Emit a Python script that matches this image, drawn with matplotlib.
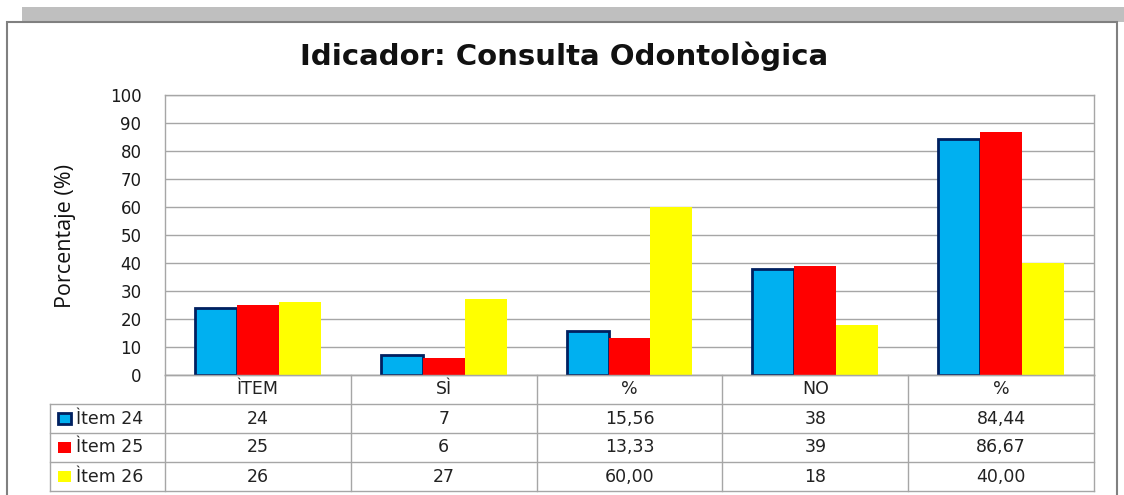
import matplotlib
matplotlib.use("Agg")
import matplotlib.pyplot as plt
from matplotlib.lines import Line2D
from matplotlib.patches import Rectangle

plt.rcParams["font.family"] = ["DejaVu Sans"]

categories = ["ÌTEM", "SÌ", "%", "NO", "%"]
series_names = ["Ìtem 24", "Ìtem 25", "Ìtem 26"]
item24 = [24, 7, 15.56, 38, 84.44]
item25 = [25, 6, 13.33, 39, 86.67]
item26 = [26, 27, 60.00, 18, 40.00]
pct_cols = [2, 4]
yticks = list(range(0, 101, 10))

series = [item24, item25, item26]
colors = ["#00B0F0", "#FF0000", "#FFFF00"]
edges = ["#002060", "none", "none"]

W, H = 1124, 495
fig = plt.figure(figsize=(W / 100, H / 100), dpi=100)

def fx(x):
    return x / W

def fy(y):
    return 1 - y / H

# background decorations: shadow band and outer frame
fig.add_artist(Rectangle((fx(22), fy(22)), fx(1124) - fx(22), fy(7) - fy(22),
                         transform=fig.transFigure, facecolor="#BFBFBF", edgecolor="none", zorder=-2))
fig.add_artist(Rectangle((fx(7), fy(500)), fx(1117) - fx(7), fy(22) - fy(500),
                         transform=fig.transFigure, facecolor="white", edgecolor="#808080",
                         linewidth=1.5, zorder=-1))

L, R, T, B = 165, 1094, 95, 375
ax = fig.add_axes([fx(L), fy(B), fx(R) - fx(L), fy(T) - fy(B)])
ax.set_zorder(1)
ax.set_xlim(0, len(categories))
ax.set_ylim(0, 100)
bw = 0.226
for j, vals in enumerate(series):
    xs = [i + 0.5 + (j - 1) * bw for i in range(len(categories))]
    lw = 2.0 if edges[j] != "none" else 0
    ax.bar(xs, vals, width=bw, color=colors[j], edgecolor=edges[j], linewidth=lw, zorder=3)

ax.set_yticks(yticks)
ax.set_yticklabels([str(t) for t in yticks], fontsize=12, color="#1a1a1a")
ax.tick_params(axis="y", length=0, pad=17)
ax.set_xticks([])
ax.grid(axis="y", color="#A6A6A6", linewidth=1.0, zorder=0)
for s in ax.spines.values():
    s.set_color("#A6A6A6")
    s.set_linewidth(1.0)
ax.set_facecolor("none")

fig.text(fx(564), fy(56), "Idicador: Consulta Odontològica", ha="center", va="center",
         fontsize=21, fontweight="bold", family=["DejaVu Sans"], color="#111111")
fig.text(fx(65), fy(236), "Porcentaje (%)", ha="center", va="center", rotation=90,
         fontsize=15.5, family=["Open Sans", "DejaVu Sans"], color="#111111")

# data table
grid_c = "#A6A6A6"
col_x = [L + (R - L) * i / len(categories) for i in range(len(categories) + 1)]
row_y = [375, 404, 433, 462, 491]
tleft = 50

def hline(x0, x1, y):
    fig.add_artist(Line2D([fx(x0), fx(x1)], [fy(y), fy(y)], transform=fig.transFigure,
                          color=grid_c, linewidth=1.0))

def vline(x, y0, y1):
    fig.add_artist(Line2D([fx(x), fx(x)], [fy(y0), fy(y1)], transform=fig.transFigure,
                          color=grid_c, linewidth=1.0))

hline(L, R, row_y[0])
for y in row_y[1:]:
    hline(tleft, R, y)
for x in col_x:
    vline(x, row_y[0], row_y[-1])
vline(tleft, row_y[1], row_y[-1])

tfs = 12.5
for i, c in enumerate(categories):
    cx = (col_x[i] + col_x[i + 1]) / 2
    fig.text(fx(cx), fy((row_y[0] + row_y[1]) / 2), c, ha="center", va="center",
             fontsize=tfs, color="#222222")

for r, (name, vals) in enumerate(zip(series_names, series)):
    cy = (row_y[r + 1] + row_y[r + 2]) / 2
    fig.add_artist(Rectangle((fx(58), fy(cy + 5.5)), fx(13), fy(cy - 5.5) - fy(cy + 5.5),
                             transform=fig.transFigure, facecolor=colors[r],
                             edgecolor=edges[r] if edges[r] != "none" else colors[r],
                             linewidth=2.0 if edges[r] != "none" else 0))
    fig.text(fx(76), fy(cy), name, ha="left", va="center", fontsize=tfs, color="#222222")
    for i, v in enumerate(vals):
        cx = (col_x[i] + col_x[i + 1]) / 2
        s = f"{v:.2f}".replace(".", ",") if i in pct_cols else f"{v:.0f}"
        fig.text(fx(cx), fy(cy), s, ha="center", va="center", fontsize=tfs, color="#222222")

fig.savefig("out.png", dpi=100)
